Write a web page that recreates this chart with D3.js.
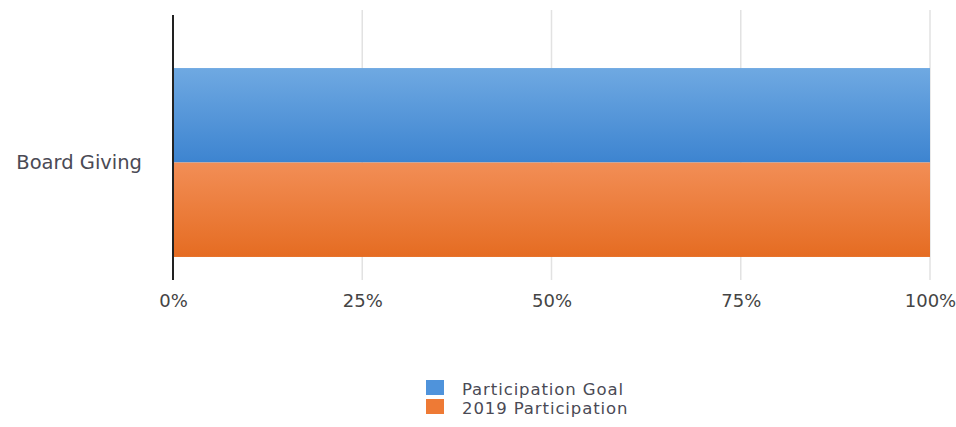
<!DOCTYPE html>
<html><head><meta charset="utf-8">
<script src="https://cdn.jsdelivr.net/npm/d3@7"></script>
<style>body{margin:0;background:#fff;}svg{display:block;}</style>
</head><body>
<script>
const categories = ["Board Giving"];
const seriesNames = ["Participation Goal", "2019 Participation"];
const goalValues = [100];
const participationValues = [100];
const tickValues = [0, 25, 50, 75, 100];
const colors = ["#4f93db", "#ee7a35"];
const gradStops = [["#6fa9e2", "#3d84d0"], ["#f28e56", "#e56c22"]];

const W = 956, H = 427;
const margin = {left: 173, right: 26, top: 45, bottom: 147};
const svg = d3.select("body").append("svg").attr("width", W).attr("height", H);
const defs = svg.append("defs");
gradStops.forEach((s, i) => {
  const g = defs.append("linearGradient").attr("id", "g" + i).attr("x1", 0).attr("y1", 0).attr("x2", 0).attr("y2", 1);
  g.append("stop").attr("offset", "0%").attr("stop-color", s[0]);
  g.append("stop").attr("offset", "100%").attr("stop-color", s[1]);
});

const x = d3.scaleLinear().domain([0, 100]).range([margin.left, W - margin.right]);
const y = d3.scaleBand().domain(categories).range([margin.top, H - margin.bottom]).paddingInner(0).paddingOuter(0.122);
const y1 = d3.scaleBand().domain(seriesNames).range([0, y.bandwidth()]);

const font = "'DejaVu Sans', sans-serif";

// gridlines
svg.append("g").selectAll("line").data(tickValues.filter(d => d > 0)).join("line")
  .attr("x1", d => x(d)).attr("x2", d => x(d))
  .attr("y1", 10).attr("y2", H - margin.bottom)
  .attr("stroke", "#e2e2e2").attr("stroke-width", 1.5);

// bars
const data = categories.map((c, i) => ({cat: c, vals: [goalValues[i], participationValues[i]]}));
const grp = svg.append("g").selectAll("g").data(data).join("g")
  .attr("transform", d => `translate(0,${y(d.cat)})`);
grp.selectAll("rect").data(d => d.vals.map((v, j) => ({v, name: seriesNames[j], j}))).join("rect")
  .attr("x", x(0)).attr("y", d => y1(d.name))
  .attr("width", d => x(d.v) - x(0)).attr("height", y1.bandwidth())
  .attr("fill", d => `url(#g${d.j})`);

// y axis line
svg.append("line").attr("x1", x(0)).attr("x2", x(0)).attr("y1", 15).attr("y2", H - margin.bottom)
  .attr("stroke", "#222").attr("stroke-width", 2);

// x tick labels
const xAxis = svg.append("g").attr("transform", `translate(0,${H - margin.bottom})`)
  .call(d3.axisBottom(x).tickValues(tickValues).tickFormat(d => d + "%").tickSize(0).tickPadding(14));
xAxis.select(".domain").remove();
xAxis.selectAll("text").attr("font-family", font).attr("font-size", 18).attr("fill", "#444");

// category labels
const yAxis = svg.append("g").attr("transform", `translate(${x(0)},0)`)
  .call(d3.axisLeft(y).tickSize(0).tickPadding(31));
yAxis.select(".domain").remove();
yAxis.selectAll("text").attr("font-family", font).attr("font-size", 19.5).attr("fill", "#4a4a55");

// legend
const leg = svg.append("g").attr("transform", "translate(426,380)");
seriesNames.forEach((n, i) => {
  const r = leg.append("g").attr("transform", `translate(0,${i * 19})`);
  r.append("rect").attr("width", 18).attr("height", 15).attr("fill", colors[i]);
  r.append("text").attr("x", 36).attr("y", 15).text(n)
    .attr("font-family", font).attr("font-size", 16.5).attr("letter-spacing", 0.9).attr("fill", "#4a4a55");
});
</script>
</body></html>
